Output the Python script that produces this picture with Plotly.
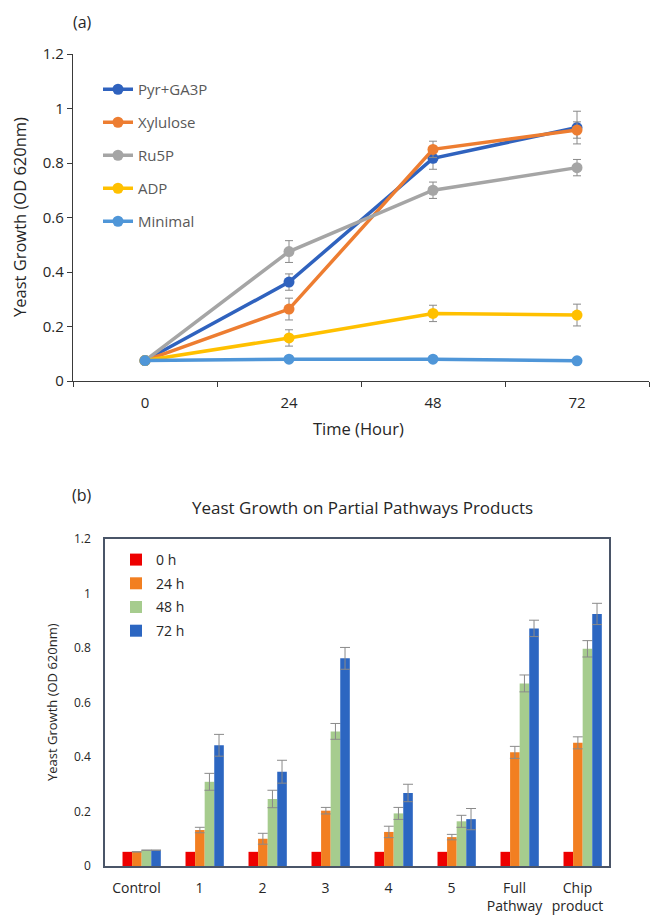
import plotly.graph_objects as go

# ---------------- data: panel (a) ----------------
time_labels = ["0", "24", "48", "72"]
pyr_ga3p = [0.075, 0.363, 0.817, 0.930]
pyr_ga3p_err = [0.005, 0.030, 0.040, 0.060]
xylulose = [0.075, 0.264, 0.850, 0.921]
xylulose_err = [0.005, 0.040, 0.030, 0.030]
ru5p = [0.075, 0.475, 0.700, 0.783]
ru5p_err = [0.005, 0.040, 0.030, 0.030]
adp = [0.075, 0.158, 0.248, 0.242]
adp_err = [0.005, 0.030, 0.030, 0.040]
minimal = [0.075, 0.080, 0.080, 0.074]
minimal_err = [0.0, 0.0, 0.0, 0.0]

# ---------------- data: panel (b) ----------------
groups = ["Control", "1", "2", "3", "4", "5", "Full<br>Pathway", "Chip<br>product"]
h0 = [0.052, 0.052, 0.052, 0.052, 0.052, 0.052, 0.052, 0.052]
h24 = [0.052, 0.132, 0.100, 0.203, 0.125, 0.106, 0.417, 0.452]
h24_err = [0.0, 0.010, 0.020, 0.012, 0.021, 0.010, 0.022, 0.022]
h48 = [0.058, 0.309, 0.246, 0.494, 0.193, 0.164, 0.670, 0.797]
h48_err = [0.0, 0.031, 0.032, 0.029, 0.022, 0.022, 0.031, 0.030]
h72 = [0.058, 0.443, 0.346, 0.762, 0.268, 0.172, 0.872, 0.925]
h72_err = [0.0, 0.040, 0.042, 0.040, 0.032, 0.039, 0.030, 0.039]

W, H = 651, 915
FONT = "Open Sans"
ERR_COLOR = "#8a8a8a"

fig = go.Figure()

line_series = [
    ("Pyr+GA3P", pyr_ga3p, pyr_ga3p_err, "#2F62BE"),
    ("Xylulose", xylulose, xylulose_err, "#ED7D31"),
    ("Ru5P", ru5p, ru5p_err, "#A5A5A5"),
    ("ADP", adp, adp_err, "#FFC000"),
    ("Minimal", minimal, minimal_err, "#4F96D8"),
]
for name, vals, errs, col in line_series:
    fig.add_trace(go.Scatter(
        x=time_labels, y=vals, name=name, mode="lines+markers",
        line=dict(color=col, width=3.5),
        marker=dict(color=col, size=11),
        error_y=dict(type="data", array=errs, visible=True,
                     color=ERR_COLOR, thickness=1, width=4),
        xaxis="x", yaxis="y", legend="legend", legendgroup=name,
    ))

bar_series = [
    ("0 h", h0, None, "#EE0000"),
    ("24 h", h24, h24_err, "#F27F21"),
    ("48 h", h48, h48_err, "#A6CC8E"),
    ("72 h", h72, h72_err, "#2C66C1"),
]
bw = 0.152
start = -0.222
for i, (name, vals, errs, col) in enumerate(bar_series):
    kw = {}
    if errs is not None:
        kw["error_y"] = dict(type="data", array=errs, visible=True,
                             color=ERR_COLOR, thickness=1, width=5)
    fig.add_trace(go.Bar(
        x=groups, y=vals, name=name, marker=dict(color=col, line=dict(width=0)),
        width=bw, offset=start + i * bw,
        xaxis="x2", yaxis="y2", legend="legend2", legendgroup=name, **kw,
    ))

def px_x(p):
    return p / W

def px_y(p):
    return 1 - p / H

axis_col = "#3a3a3a"
tick_font = dict(family=FONT, size=15, color="#262626")

fig.update_layout(
    width=W, height=H,
    margin=dict(l=0, r=0, t=0, b=0, autoexpand=False),
    paper_bgcolor="white", plot_bgcolor="white",
    font=dict(family=FONT, color="#262626"),
    barmode="overlay",
    xaxis=dict(
        domain=[px_x(73), px_x(649)], anchor="y", type="category",
        range=[-0.5, 3.5], showline=True, linecolor=axis_col, linewidth=1.2,
        ticks="outside", tickson="boundaries", ticklen=5, tickcolor=axis_col,
        showgrid=False, zeroline=False, tickfont=tick_font, ticklabelstandoff=8,
    ),
    yaxis=dict(
        domain=[px_y(381), px_y(54)], anchor="x", range=[0, 1.2], dtick=0.2,
        showline=True, linecolor=axis_col, linewidth=1.2, ticks="outside",
        ticklen=5, tickcolor=axis_col, showgrid=False, zeroline=False,
        tickfont=tick_font,
    ),
    xaxis2=dict(
        domain=[px_x(105), px_x(609)], anchor="y2", type="category",
        range=[-0.5, 7.5], showline=True, mirror=True, linecolor="#4a5568",
        linewidth=1.5, ticks="", showgrid=False, zeroline=False,
        tickfont=dict(family=FONT, size=14, color="#262626"), ticklabelstandoff=8,
    ),
    yaxis2=dict(
        domain=[px_y(866), px_y(539)], anchor="x2", range=[0, 1.2], dtick=0.2,
        showline=True, mirror=True, linecolor="#4a5568", linewidth=1.5,
        ticks="", showgrid=False, zeroline=False,
        tickfont=dict(family=FONT, size=12, color="#262626"), ticklabelstandoff=10,
    ),
    legend=dict(
        x=px_x(98), y=px_y(73), xanchor="left", yanchor="top",
        bgcolor="rgba(0,0,0,0)", font=dict(family=FONT, size=15, color="#595959"),
        tracegroupgap=10.5, traceorder="grouped",
    ),
    legend2=dict(
        x=px_x(116), y=px_y(544), xanchor="left", yanchor="top",
        bgcolor="rgba(0,0,0,0)", font=dict(family=FONT, size=14, color="#262626"),
        tracegroupgap=2.5, traceorder="grouped",
    ),
    showlegend=True,
)

annotations = [
    dict(text="(a)", x=px_x(82), y=px_y(22), font=dict(size=16)),
    dict(text="(b)", x=px_x(82), y=px_y(495), font=dict(size=16)),
    dict(text="Yeast Growth (OD 620nm)", x=px_x(20), y=px_y(217), textangle=-90,
         font=dict(size=16.5)),
    dict(text="Time (Hour)", x=px_x(358), y=px_y(428), font=dict(size=16.5)),
    dict(text="Yeast Growth on Partial Pathways Products", x=px_x(362), y=px_y(507),
         font=dict(size=17)),
    dict(text="Yeast Growth (OD 620nm)", x=px_x(52), y=px_y(702), textangle=-90,
         font=dict(size=13)),
]
for a in annotations:
    fig.add_annotation(xref="paper", yref="paper", showarrow=False,
                       xanchor="center", yanchor="middle",
                       font=dict(family=FONT, size=a["font"]["size"], color="#262626"),
                       **{k: v for k, v in a.items() if k != "font"})

css_js = (
    "document.documentElement.style.cssText='margin:0;padding:0;overflow:hidden;';"
    "document.body.style.cssText='margin:0;padding:0;overflow:hidden;';"
)
fig.write_html("out.html", config={"displayModeBar": False}, post_script=css_js)
